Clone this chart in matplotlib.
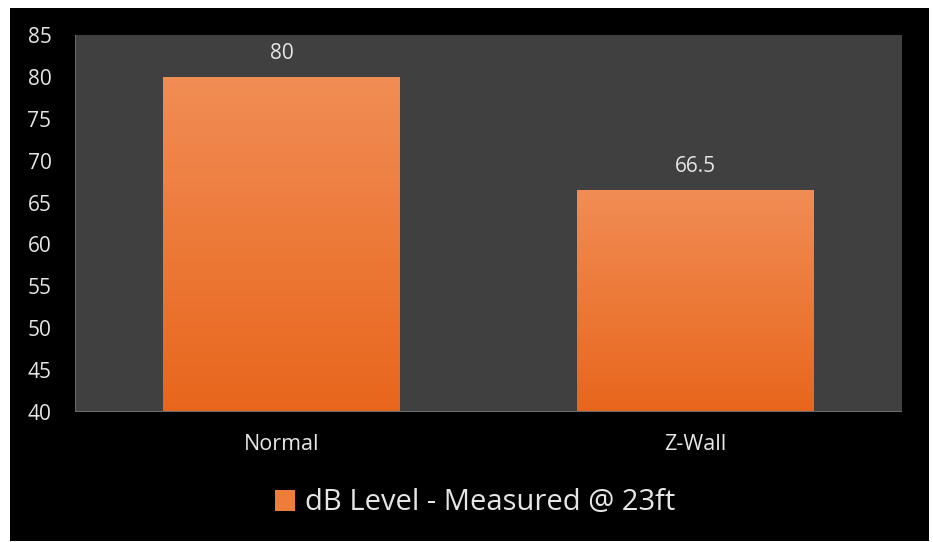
import matplotlib
matplotlib.use("Agg")
import matplotlib.pyplot as plt
import numpy as np
from matplotlib.patches import Rectangle, Patch
from matplotlib.colors import LinearSegmentedColormap

categories = ["Normal", "Z-Wall"]
values = [80, 66.5]
value_labels = ["80", "66.5"]
series_name = "dB Level - Measured @ 23ft"
yticks = [40, 45, 50, 55, 60, 65, 70, 75, 80, 85]

plt.rcParams['font.family'] = ['Open Sans', 'DejaVu Sans']
W, H = 933, 542
fig = plt.figure(figsize=(W/100, H/100), dpi=100, facecolor='white')
fig.patches.append(Rectangle((10/W, 1-541/H), 919/W, 533/H, transform=fig.transFigure,
                             facecolor='black', edgecolor='none', zorder=-10))
ax = fig.add_axes([75/W, 1-412/H, 827/W, 377/H])
ax.set_facecolor('#404040')

x = np.arange(len(categories))
bw = 0.573
bars = ax.bar(x, values, width=bw, bottom=0, color='#EE7D3A', zorder=2)
ax.set_ylim(40, 85)
ax.set_xlim(-0.5, 1.5)

cmap = LinearSegmentedColormap.from_list('og', ['#E8661C', '#F18D55'])
grad = np.linspace(0, 1, 256).reshape(-1, 1)
for b, v in zip(bars, values):
    x0 = b.get_x()
    im = ax.imshow(grad, cmap=cmap, origin='lower', aspect='auto',
                   extent=[x0, x0 + b.get_width(), 40, v], zorder=3)
    im.set_clip_path(b)

for xi, v, lab in zip(x, values, value_labels):
    ax.annotate(lab, (xi, v), xytext=(0, 9), textcoords='offset points',
                ha='center', va='bottom', color='#E6E6E6', fontsize=15)

ax.set_yticks(yticks)
ax.set_xticks(x)
ax.set_xticklabels(categories)
ax.tick_params(axis='y', colors='#E6E6E6', labelsize=15, length=0, pad=17)
ax.tick_params(axis='x', colors='#E6E6E6', labelsize=15.5, length=0, pad=16)
for s in ax.spines.values():
    s.set_visible(False)
ax.axhline(40, color='#6a6a6a', lw=1.5, zorder=4)
ax.axvline(-0.5, color='#6a6a6a', lw=0.8, zorder=4)

handle = Patch(facecolor='#EE7D3A', edgecolor='none')
leg = fig.legend([handle], [series_name], loc='center', bbox_to_anchor=(475/W, 1-503/H),
                 frameon=False, fontsize=21, handlelength=0.7, handleheight=0.7,
                 handletextpad=0.35, labelcolor='#E6E6E6')

fig.savefig('out.png', dpi=100, facecolor='white')
